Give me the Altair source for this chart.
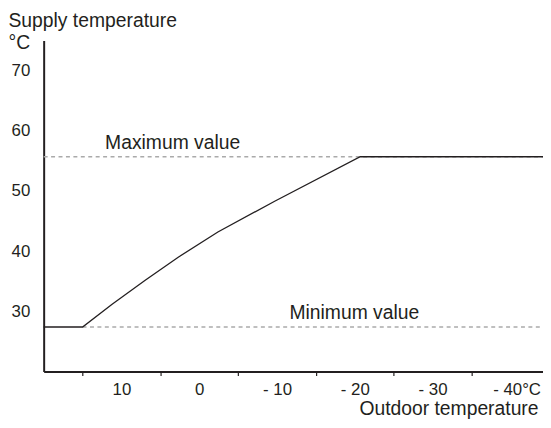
import altair as alt
import pandas as pd

# ---- data ----
outdoor = [20, 15, 11.2, 6.9, 2.7, -2.4, -9.7, -20.7, -44.2]
supply = [27.4, 27.4, 31.2, 35.2, 39.0, 43.2, 48.3, 55.7, 55.7]

limit_names = ["Maximum value", "Minimum value"]
limit_values = [55.7, 27.4]
limit_start = [20, 15]
label_outdoor = [12.1, -11.6]

x_ticks = [10, 0, -10, -20, -30, -40]
y_ticks = [30, 40, 50, 60, 70]
x_domain = [20, -44.2]
y_domain = [20, 75]

FONT = "Liberation Sans"
INK = "#231f20"
DASH = "#aaaaaa"
FS = 17      # tick labels
FS_T = 19.5  # titles and annotations

curve_df = pd.DataFrame({"outdoor": outdoor, "supply": supply})
lim_df = pd.DataFrame({
    "name": limit_names,
    "value": limit_values,
    "start": limit_start,
    "end": [x_domain[1]] * len(limit_names),
    "lx": label_outdoor,
})

xscale = alt.Scale(domain=x_domain, nice=False, zero=False)
yscale = alt.Scale(domain=y_domain, nice=False, zero=False)

x_axis = alt.Axis(
    values=x_ticks,
    title="Outdoor temperature",
    titleAngle=0,
    titleAlign="right",
    titleBaseline="alphabetic",
    titleX=499,
    titleY=43,
    titleFont=FONT,
    titleFontSize=FS_T,
    titleFontWeight="normal",
    titleColor=INK,
    labelExpr="(datum.value < 0 ? '- ' + abs(datum.value) : datum.label) + (datum.value == -40 ? '°C' : '')",
    labelFont=FONT,
    labelFontSize=FS,
    labelColor=INK,
    labelBaseline="alphabetic",
    labelPadding=19,
    labelFlush=False,
    labelOverlap=False,
    tickOffset=-39.2,
    labelOffset={"condition": {"test": "datum.value == -40", "value": 45.5}, "value": 39.2},
    tickSize=4,
    tickColor=INK,
    tickWidth=1.2,
    domainColor=INK,
    domainWidth=2,
    grid=False,
)

y_axis = alt.Axis(
    values=y_ticks,
    title=["Supply temperature", "°C"],
    titleAngle=0,
    titleAlign="left",
    titleBaseline="alphabetic",
    titleX=-36,
    titleY=-14.5,
    titleLineHeight=22.5,
    titleFont=FONT,
    titleFontSize=FS_T,
    titleFontWeight="normal",
    titleColor=INK,
    labelFont=FONT,
    labelFontSize=FS,
    labelColor=INK,
    labelPadding=14,
    ticks=False,
    tickSize=0,
    domainColor=INK,
    domainWidth=2,
    grid=False,
)

rules = alt.Chart(lim_df).mark_rule(
    color=DASH, strokeDash=[4, 3.5], strokeWidth=1.5
).encode(
    x=alt.X("start:Q", scale=xscale, axis=x_axis),
    x2="end:Q",
    y=alt.Y("value:Q", scale=yscale, axis=y_axis),
)

labels = alt.Chart(lim_df).mark_text(
    align="left", baseline="alphabetic", dy=-8, font=FONT, fontSize=FS_T, color=INK
).encode(
    x=alt.X("lx:Q", scale=xscale),
    y=alt.Y("value:Q", scale=yscale),
    text="name:N",
)

curve = alt.Chart(curve_df).mark_line(color=INK, strokeWidth=1.3).encode(
    x=alt.X("outdoor:Q", scale=xscale),
    y=alt.Y("supply:Q", scale=yscale),
    order=alt.Order("outdoor:Q", sort="descending"),
)

chart = alt.layer(rules, labels, curve).properties(
    width=504,
    height=334,
    padding={"left": 36, "top": 31, "right": 0, "bottom": 47},
    autosize=alt.AutoSizeParams(type="none"),
    background="white",
).configure_view(stroke=None)

chart.save("out.html", embed_options={"renderer": "svg", "actions": False})
